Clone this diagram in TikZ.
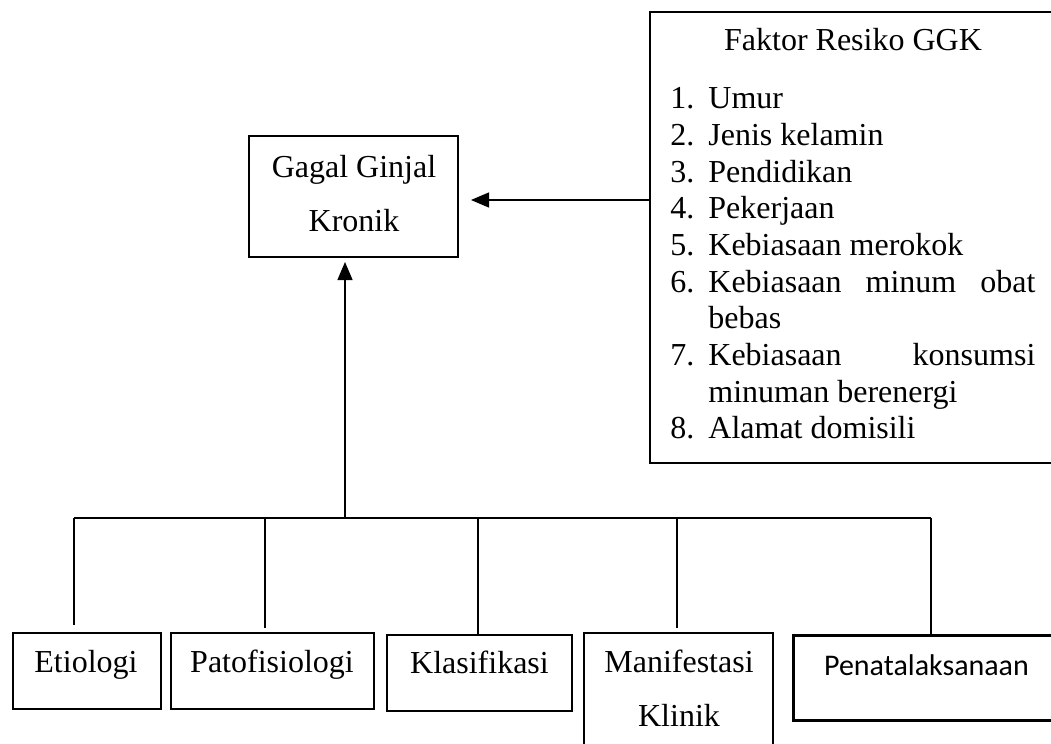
\documentclass[tikz,border=0pt]{standalone}
\usepackage{fontspec}
\setmainfont{Liberation Serif}
\newfontfamily\penafont{Carlito}
\usetikzlibrary{arrows.meta}
\begin{document}
\begin{tikzpicture}[x=0.5pt,y=-0.5pt,
  every node/.style={font=\fontsize{16pt}{19pt}\selectfont},
  boxnode/.style={draw, line width=1pt, inner sep=0pt},
  txt/.style={inner sep=0pt, anchor=base},
  itm/.style={inner sep=0pt, anchor=base west},
  link/.style={line width=0.65pt},
  arr/.style={line width=0.65pt, -{Triangle[length=9pt,width=7.5pt]}}]
\useasboundingbox (0,0) rectangle (1051,744);

% boxes
\node[boxnode, minimum width=104.5pt, minimum height=60.5pt] (ggk) at (353.5,196.5) {};
\node[boxnode, minimum width=206pt, minimum height=225.5pt] (faktor) at (856,237.5) {};
\node[boxnode, minimum width=74pt, minimum height=38pt] (etio) at (87,671) {};
\node[boxnode, minimum width=101.5pt, minimum height=38pt] (pato) at (272.5,671) {};
\node[boxnode, minimum width=92.5pt, minimum height=38pt] (klas) at (479.5,673) {};
\node[boxnode, minimum width=94.5pt, minimum height=68.5pt] (manif) at (678.5,701.5) {};
\node[boxnode, line width=1.5pt, minimum width=136.5pt, minimum height=42.5pt] (pena) at (929.5,677.5) {};

% box texts
\node[txt] (ggkA) at (354,177) {Gagal Ginjal};
\node[txt] (ggkB) at (354,231) {Kronik};
\node[txt] (etioT) at (86,672) {Etiologi};
\node[txt] (patoT) at (272,672) {Patofisiologi};
\node[txt] (klasT) at (479.5,673) {Klasifikasi};
\node[txt] (manifA) at (679,672) {Manifestasi};
\node[txt] (manifB) at (679,726) {Klinik};
\node[txt, font=\penafont\fontsize{15pt}{18pt}\selectfont] (penaT) at (926.5,675) {Penatalaksanaan};

% risk factor list
\node[txt] (title) at (853,50) {Faktor Resiko GGK};
\node[itm] (n1) at (670,108) {1.};  \node[itm] (t1) at (708,108) {Umur};
\node[itm] (n2) at (670,145) {2.};  \node[itm] (t2) at (708,145) {Jenis kelamin};
\node[itm] (n3) at (670,182) {3.};  \node[itm] (t3) at (708,182) {Pendidikan};
\node[itm] (n4) at (670,218) {4.};  \node[itm] (t4) at (708,218) {Pekerjaan};
\node[itm] (n5) at (670,255) {5.};  \node[itm] (t5) at (708,255) {Kebiasaan merokok};
\node[itm] (n6) at (670,292) {6.};  \node[itm] (t6) at (708,292) {\makebox[163.5pt][l]{Kebiasaan\hfill minum\hfill obat}};
\node[itm] (t6b) at (708,328) {bebas};
\node[itm] (n7) at (670,365) {7.};  \node[itm] (t7) at (708,365) {\makebox[163.5pt][l]{Kebiasaan\hfill konsumsi}};
\node[itm] (t7b) at (708,402) {minuman berenergi};
\node[itm] (n8) at (670,438) {8.};  \node[itm] (t8) at (708,438) {Alamat domisili};

% connectors
\coordinate (htip) at (471,200);
\draw[arr] (faktor.west |- htip) -- (htip);

\coordinate (vtip) at (345,262);
\coordinate (busmid) at (345,518);
\draw[arr] (busmid) -- (vtip);

\coordinate (busL) at (74,518);
\coordinate (busR) at (931,518);
\draw[link] (busL) -- (busR);

\coordinate (e1) at (74,625);
\coordinate (j2) at (265,518); \coordinate (e2) at (265,628);
\coordinate (j3) at (478,518); \coordinate (e3) at (478,635);
\coordinate (j4) at (677,518); \coordinate (e4) at (677,628);
\coordinate (e5) at (931,635);
\draw[link] (busL) -- (e1);
\draw[link] (j2) -- (e2);
\draw[link] (j3) -- (e3);
\draw[link] (j4) -- (e4);
\draw[link] (busR) -- (e5);
\end{tikzpicture}
\end{document}
